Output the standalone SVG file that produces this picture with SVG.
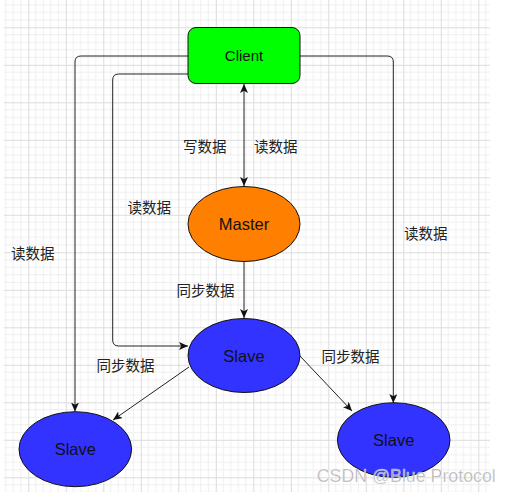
<svg xmlns="http://www.w3.org/2000/svg" width="512" height="492" viewBox="0 0 512 492">
<defs>
<pattern id="grid" patternUnits="userSpaceOnUse" x="28.3" y="27.3" width="37.5" height="37.5">
<path d="M7.5,0V37.5M15,0V37.5M22.5,0V37.5M30,0V37.5M0,7.5H37.5M0,15H37.5M0,22.5H37.5M0,30H37.5" stroke="#efefef" stroke-width="1" fill="none"/>
<path d="M0.5,0V37.5M0,0.5H37.5" stroke="#dcdcdc" stroke-width="1" fill="none"/>
</pattern>
<marker id="arr" markerUnits="userSpaceOnUse" viewBox="0 0 9 8" refX="9" refY="4" markerWidth="9" markerHeight="8" orient="auto-start-reverse">
<path d="M0,0 L9,4 L0,8 L2.2,4 Z" fill="#111"/>
</marker>
<style>
.edge{fill:none;stroke:#222;stroke-width:1;}
.lbl{font-family:"Noto Sans CJK SC","Noto Sans",sans-serif;font-size:14.5px;fill:#222;dominant-baseline:central;}
.nt{font-family:"Liberation Sans",Arial,sans-serif;fill:#111;text-anchor:middle;dominant-baseline:central;}
.node{stroke:#111;stroke-width:1;}
.slave{fill:#3333ff;}
</style>
</defs>
<rect x="0" y="0" width="512" height="492" fill="#ffffff"/>
<rect x="4" y="0" width="486" height="492" fill="url(#grid)"/>
<g id="connectors">
<path class="edge" d="M244,84 V186" marker-start="url(#arr)" marker-end="url(#arr)"/>
<path class="edge" d="M188,56 H81 Q75,56 75,62 V411.5" marker-end="url(#arr)"/>
<path class="edge" d="M188,74 H118.7 Q112.7,74 112.7,80 V340 Q112.7,346 118.7,346 H188" marker-end="url(#arr)"/>
<path class="edge" d="M300,56 H387.3 Q393.3,56 393.3,62 V403" marker-end="url(#arr)"/>
<path class="edge" d="M244,262 V318" marker-end="url(#arr)"/>
<path class="edge" d="M189,367 L113,420" marker-end="url(#arr)"/>
<path class="edge" d="M300,356 L352,411" marker-end="url(#arr)"/>
<text class="lbl" x="183" y="145">写数据</text>
<text class="lbl" x="254" y="145">读数据</text>
<text class="lbl" x="127.5" y="206">读数据</text>
<text class="lbl" x="404" y="232.5">读数据</text>
<text class="lbl" x="11" y="252.5">读数据</text>
<text class="lbl" x="176.5" y="289.5">同步数据</text>
<text class="lbl" x="96.5" y="364.5">同步数据</text>
<text class="lbl" x="321.5" y="355">同步数据</text>
</g>
<g id="client">
<rect class="node" x="188" y="27.5" width="112" height="56" rx="8" fill="#00ff00"/>
<text class="nt" x="244" y="55.5" font-size="15">Client</text>
</g>
<g id="master">
<ellipse class="node" cx="244" cy="224" rx="56" ry="37.5" fill="#ff8000"/>
<text class="nt" x="244" y="224" font-size="16.5">Master</text>
</g>
<g id="slave-center">
<ellipse class="node slave" cx="244" cy="355.5" rx="56" ry="37"/>
<text class="nt" x="244" y="355.5" font-size="16.5">Slave</text>
</g>
<g id="slave-left">
<ellipse class="node slave" cx="75.3" cy="449.2" rx="56.3" ry="37.5"/>
<text class="nt" x="75.3" y="449.2" font-size="16.5">Slave</text>
</g>
<g id="slave-right">
<ellipse class="node slave" cx="393.7" cy="440" rx="56.3" ry="37.3"/>
<text class="nt" x="393.7" y="440" font-size="16.5">Slave</text>
</g>
<text x="316.7" y="482" font-family="'Liberation Sans',Arial,sans-serif" font-size="17.8" fill="#a8a8a8" fill-opacity="0.9" stroke="#ffffff" stroke-width="0.6" stroke-opacity="0.6">CSDN @Blue Protocol</text>
</svg>
